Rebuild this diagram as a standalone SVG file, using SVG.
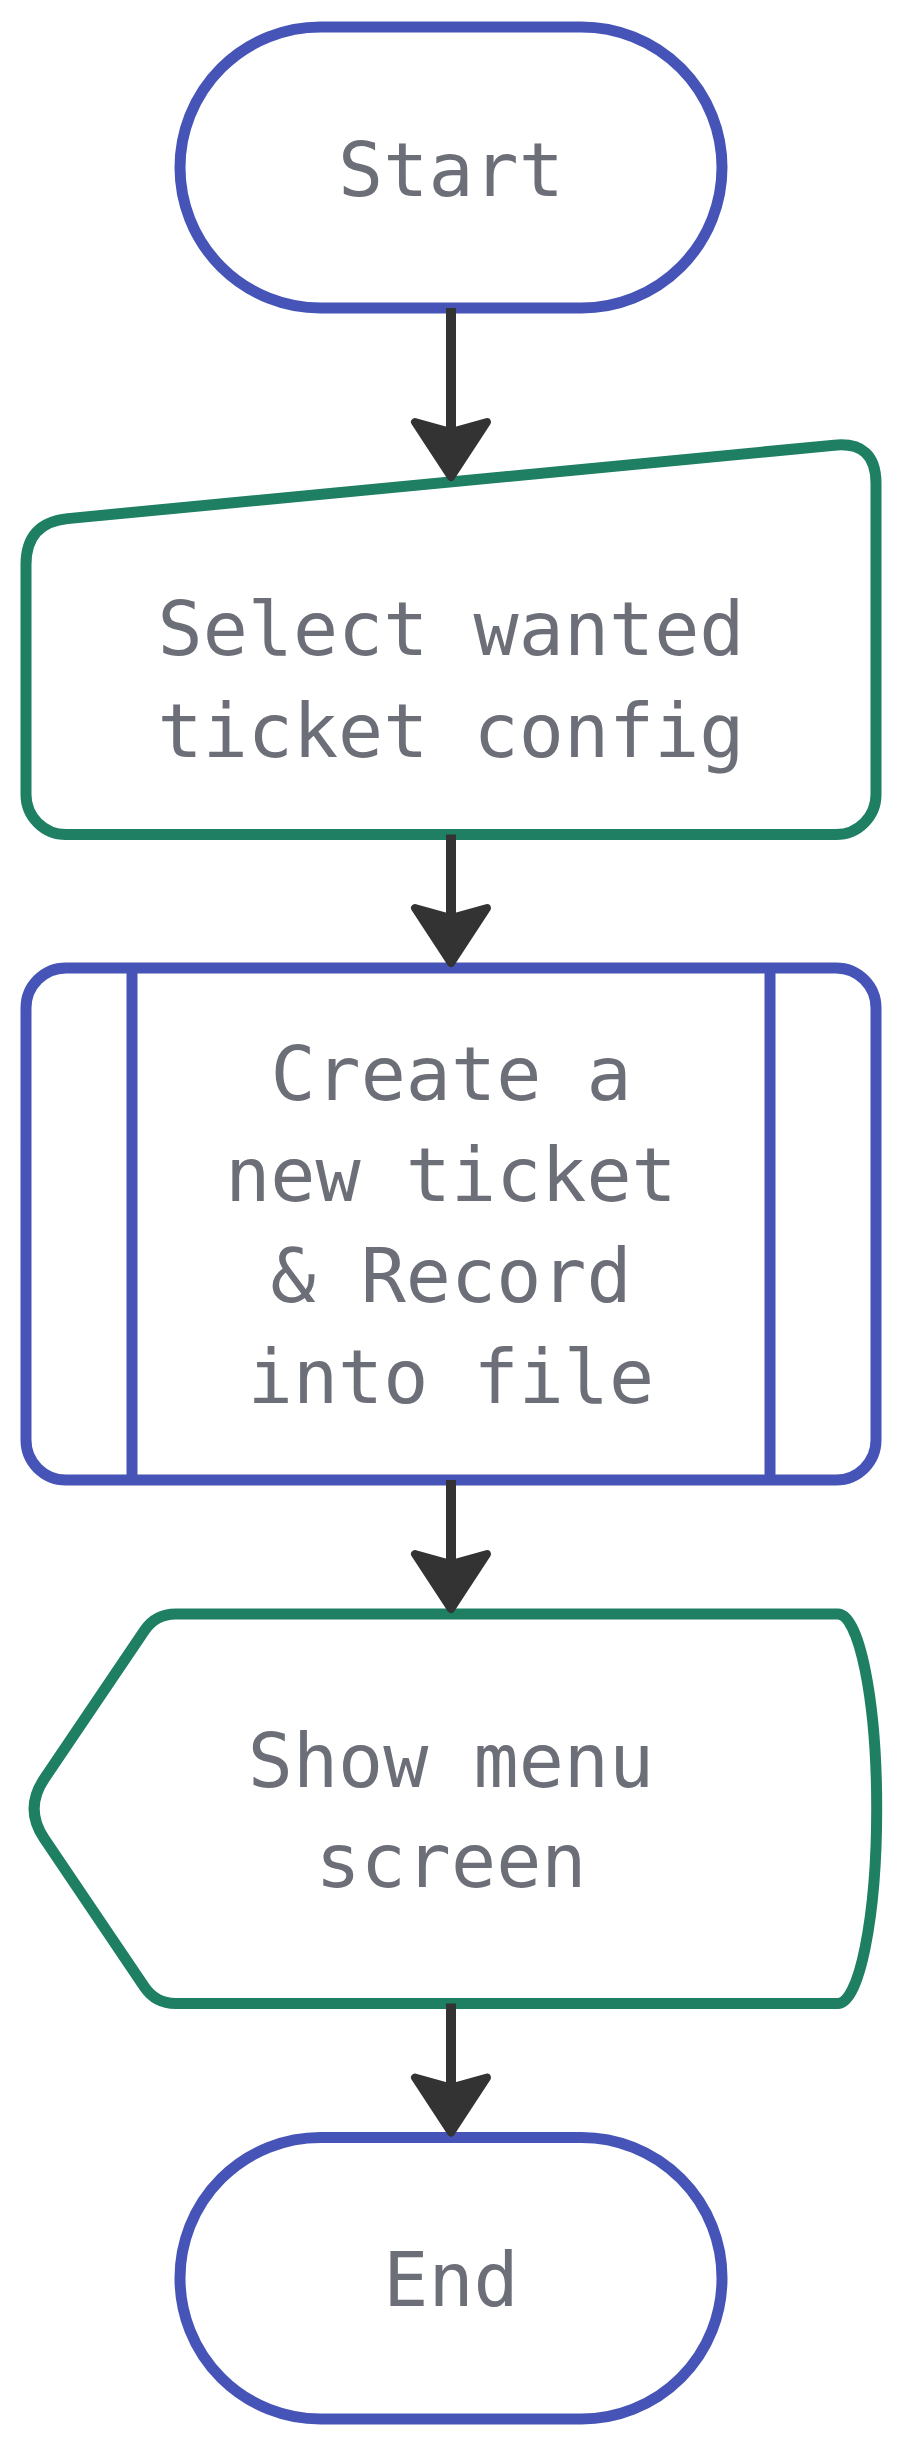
<svg xmlns="http://www.w3.org/2000/svg" width="920" height="2444" viewBox="0 0 920 2444">
<style>
.bg{fill:#ffffff}
.blue{fill:#ffffff;stroke:#4654b8;stroke-width:11}
.green{fill:#ffffff;stroke:#1e7f62;stroke-width:11}
.bline{fill:none;stroke:#4654b8;stroke-width:11}
.lbl{font-family:"DejaVu Sans Mono","Liberation Mono",monospace;font-size:75px;fill:#6c6e78;text-anchor:middle}
.edge{fill:none;stroke:#333333;stroke-width:10}
.head{fill:#333333;stroke:#333333;stroke-width:8;stroke-linejoin:round}
</style>
<defs>
<path id="ah" d="M 0 -5 L -36 -60 L 0 -50 L 36 -60 Z"/>
</defs>
<rect class="bg" x="0" y="0" width="920" height="2444"/>
<g id="node-start">
<rect class="blue" x="180" y="27" width="542" height="281" rx="140.5" ry="140.5"/>
<text class="lbl" x="451" y="196">Start</text>
</g>
<g id="node-select">
<path class="green" d="M 26 564.6 Q 26 522.6 67.8 518.6 L 834.2 445.2 Q 876 441.2 876 483.2 L 876 794.5 A 40 40 0 0 1 836 834.5 L 66 834.5 A 40 40 0 0 1 26 794.5 Z"/>
<text class="lbl" x="451" y="655">Select wanted</text>
<text class="lbl" x="451" y="757">ticket config</text>
</g>
<g id="node-create">
<rect class="blue" x="26" y="968" width="850" height="512" rx="40" ry="40"/>
<line class="bline" x1="132" y1="968" x2="132" y2="1480"/>
<line class="bline" x1="770" y1="968" x2="770" y2="1480"/>
<text class="lbl" x="451" y="1100">Create a</text>
<text class="lbl" x="451" y="1201">new ticket</text>
<text class="lbl" x="451" y="1302">&amp; Record</text>
<text class="lbl" x="451" y="1403">into file</text>
</g>
<g id="node-show">
<path class="green" d="M 175.6 1614 L 838 1614 A 38.7 194.75 0 0 1 838 2003.5 L 175.6 2003.5 Q 155.6 2003.5 144.4 1986.9 L 44.2 1838.5 Q 24 1808.7 44.2 1778.9 L 144.4 1630.6 Q 155.6 1614 175.6 1614 Z"/>
<text class="lbl" x="451" y="1787">Show menu</text>
<text class="lbl" x="451" y="1887">screen</text>
</g>
<g id="node-end">
<rect class="blue" x="180" y="2137.5" width="542" height="281.5" rx="140.5" ry="140.5"/>
<text class="lbl" x="451" y="2306">End</text>
</g>
<g id="connectors">
<line class="edge" x1="451" y1="308" x2="451" y2="431"/>
<use href="#ah" class="head" x="451" y="482"/>
<line class="edge" x1="451" y1="834.5" x2="451" y2="918"/>
<use href="#ah" class="head" x="451" y="968"/>
<line class="edge" x1="451" y1="1480" x2="451" y2="1564"/>
<use href="#ah" class="head" x="451" y="1614"/>
<line class="edge" x1="451" y1="2003.5" x2="451" y2="2087"/>
<use href="#ah" class="head" x="451" y="2137.5"/>
</g>
</svg>
